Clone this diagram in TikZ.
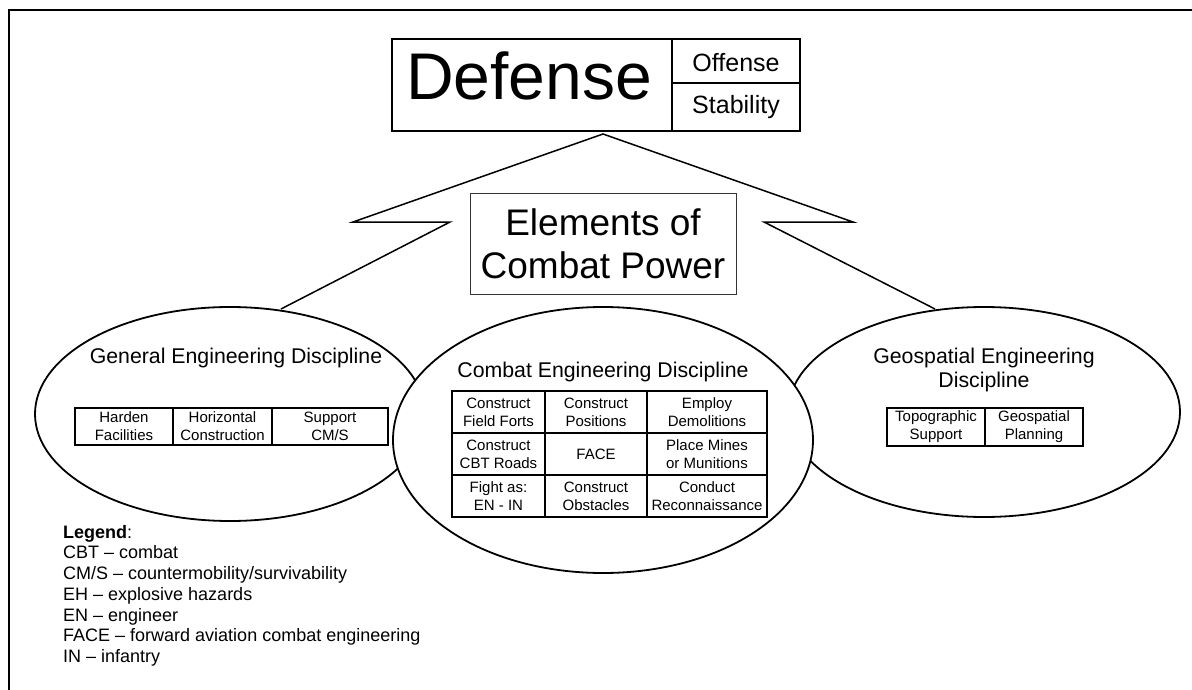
\documentclass[tikz,border=0pt]{standalone}
\usepackage{fontspec}
\setmainfont{Liberation Sans}
\usetikzlibrary{shapes.geometric}
\begin{document}
\begin{tikzpicture}[x=1pt,y=-1pt,
  frameline/.style={line width=2.6pt},
  boxline/.style={line width=1.8pt},
  callout/.style={line width=1.5pt, line join=miter},
  disc/.style={draw, ellipse, line width=1.8pt, fill=white, inner sep=0pt},
  cell/.style={draw, line width=1.2pt, inner sep=0pt, align=center,
    font=\fontsize{15}{18}\selectfont},
  optext/.style={inner sep=0pt, font=\fontsize{25}{25}\selectfont},
  title/.style={anchor=base, inner sep=0pt, font=\fontsize{21.3}{24}\selectfont},
]
\useasboundingbox (0,0) rectangle (1192,690);

% page frame (top and left rules)
\draw[frameline] (9,690) -- (9,10) -- (1192,10);

% outer discipline ellipses, then the central one on top
\node[disc, minimum width=390pt, minimum height=214pt] (gen) at (230,414) {};
\node[disc, minimum width=392pt, minimum height=210pt] (geo) at (984,412) {};
\node[disc, minimum width=420pt, minimum height=266pt] (cbt) at (603,440) {};

% callout from the operation box down to the outer ellipses
\coordinate (apex) at (603,134);
\coordinate (lt) at (353,222);
\coordinate (li) at (450,222);
\coordinate (lf) at (281,309);
\coordinate (rt) at (853,222);
\coordinate (ri) at (764,222);
\coordinate (rf) at (935,309);
\draw[callout] (lf) -- (li) -- (lt) -- (apex) -- (rt) -- (ri) -- (rf);

% operation box: main operation plus the two other operations
\draw[boxline] (392,39) rectangle (800,131);
\draw[boxline] (672,39) -- (672,131);
\draw[boxline] (672,83) -- (800,83);
\node[inner sep=0pt, anchor=base, font=\fontsize{66}{66}\selectfont] (def) at (529,100) {Defense};
\node[optext, anchor=base] (off) at (736,71.5) {Offense};
\node[optext, anchor=base] (stab) at (736,114) {Stability};

% elements of combat power
\node[draw=black!80, line width=1pt, minimum width=266pt, minimum height=100pt,
  align=center, font=\fontsize{37}{43}\selectfont] (ecp) at (603,244)
  {Elements of\\Combat Power};

% general engineering
\node[title] (genT) at (236,363) {General Engineering Discipline};
\node[cell, minimum width=98pt, minimum height=37pt] (g1) at (124,426.5) {Harden\\Facilities};
\node[cell, minimum width=99pt, minimum height=37pt] (g2) at (222.5,426.5) {Horizontal\\Construction};
\node[cell, minimum width=116pt, minimum height=37pt] (g3) at (330,426.5) {Support\\CM/S};

% combat engineering
\node[title] (cbtT) at (603,377) {Combat Engineering Discipline};
\node[cell, minimum width=93pt, minimum height=42pt] (c11) at (498.5,412) {Construct\\Field Forts};
\node[cell, minimum width=102pt, minimum height=42pt] (c12) at (596,412) {Construct\\Positions};
\node[cell, minimum width=120pt, minimum height=42pt] (c13) at (707,412) {Employ\\Demolitions};
\node[cell, minimum width=93pt, minimum height=42pt] (c21) at (498.5,454) {Construct\\CBT Roads};
\node[cell, minimum width=102pt, minimum height=42pt] (c22) at (596,454) {FACE};
\node[cell, minimum width=120pt, minimum height=42pt] (c23) at (707,454) {Place Mines\\or Munitions};
\node[cell, minimum width=93pt, minimum height=42pt] (c31) at (498.5,496) {Fight as:\\EN - IN};
\node[cell, minimum width=102pt, minimum height=42pt] (c32) at (596,496) {Construct\\Obstacles};
\node[cell, minimum width=120pt, minimum height=42pt] (c33) at (707,496) {Conduct\\Reconnaissance};

% geospatial engineering
\node[title] (geoT1) at (984,363) {Geospatial Engineering};
\node[title] (geoT2) at (984,387) {Discipline};
\node[cell, minimum width=98pt, minimum height=38pt] (s1) at (936,427) {Topographic\\Support};
\node[cell, minimum width=98pt, minimum height=38pt] (s2) at (1034,427) {Geospatial\\Planning};

% legend
\node[anchor=north west, inner sep=0pt, align=left,
  font=\fontsize{18}{20.7}\selectfont] (legend) at (63,525)
  {\textbf{Legend}:\\
   CBT – combat\\
   CM/S – countermobility/survivability\\
   EH – explosive hazards\\
   EN – engineer\\
   FACE – forward aviation combat engineering\\
   IN – infantry};
\end{tikzpicture}
\end{document}
